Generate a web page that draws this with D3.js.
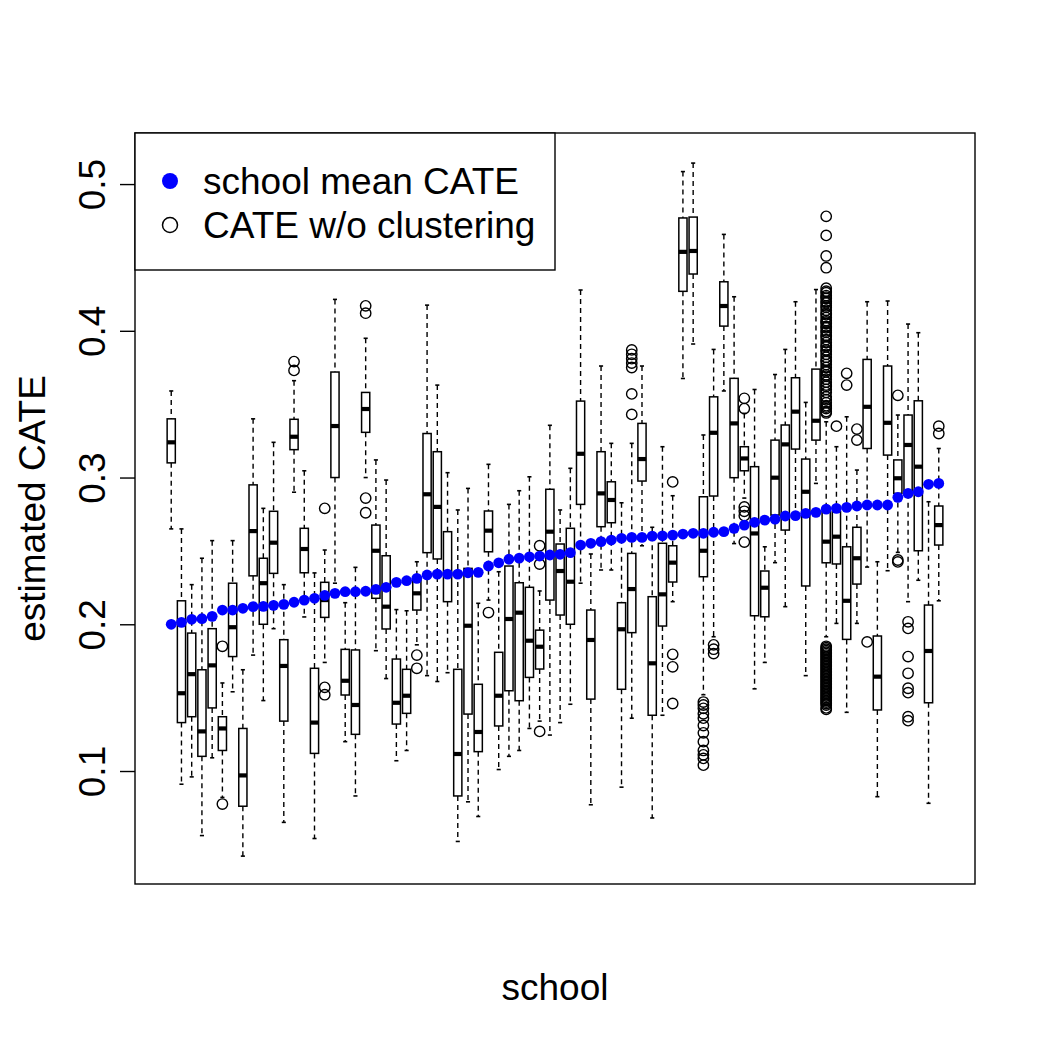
<!DOCTYPE html>
<html lang="en">
<head>
<meta charset="UTF-8">
<title>Estimated CATE by school</title>
<script src="https://d3js.org/d3.v7.min.js"></script>
<style>
  body { margin: 0; background: #fff; }
  svg { font-family: "Liberation Sans", Arial, Helvetica, sans-serif; }
</style>
</head>
<body>
<div id="chart"></div>
<script>
// schools, ordered by their mean CATE
const schoolIds = d3.range(1, 77);

// school mean CATE (blue points)
const schoolMean = [
  0.2000, 0.2013, 0.2034, 0.2038, 0.2054, 0.2097, 0.2097, 0.2109, 0.2120, 0.2122,
  0.2129, 0.2136, 0.2150, 0.2165, 0.2177, 0.2197, 0.2211, 0.2222, 0.2222, 0.2225,
  0.2238, 0.2252, 0.2286, 0.2297, 0.2313, 0.2336, 0.2342, 0.2342, 0.2342, 0.2351,
  0.2354, 0.2397, 0.2419, 0.2443, 0.2451, 0.2460, 0.2465, 0.2472, 0.2477, 0.2488,
  0.2540, 0.2552, 0.2563, 0.2574, 0.2586, 0.2592, 0.2592, 0.2601, 0.2603, 0.2608,
  0.2615, 0.2620, 0.2620, 0.2627, 0.2631, 0.2654, 0.2676, 0.2695, 0.2710, 0.2717,
  0.2738, 0.2740, 0.2756, 0.2763, 0.2785, 0.2790, 0.2797, 0.2806, 0.2813, 0.2813,
  0.2813, 0.2865, 0.2892, 0.2903, 0.2954, 0.2960
];

// box statistics of the CATE w/o clustering, per school
const whiskerLow = [
  0.265, 0.091, 0.096, 0.056, 0.109, 0.082, 0.154, 0.042, 0.179, 0.148,
  0.197, 0.065, 0.290, 0.205, 0.054, 0.174, 0.228, 0.120, 0.083, 0.300,
  0.182, 0.163, 0.107, 0.114, 0.186, 0.165, 0.161, 0.167, 0.052, 0.079,
  0.069, 0.2165, 0.101, 0.110, 0.114, 0.129, 0.134, 0.1245, 0.133, 0.1455,
  0.228, 0.077, 0.237, 0.237, 0.089, 0.136, 0.2535, 0.068, 0.138, 0.2154,
  0.3675, 0.391, 0.152, 0.1915, 0.359, 0.255, 0.286, 0.156, 0.174, 0.242,
  0.212, 0.274, 0.165, 0.296, 0.1915, 0.2006, 0.140, 0.2006, 0.239, 0.0825,
  0.2365, 0.249, 0.2154, 0.230, 0.078, 0.216
];
const q1 = [
  0.310, 0.133, 0.137, 0.110, 0.143, 0.114, 0.178, 0.076, 0.233, 0.200,
  0.2347, 0.134, 0.319, 0.2351, 0.112, 0.2047, 0.300, 0.1518, 0.125, 0.3308,
  0.2177, 0.1968, 0.132, 0.1393, 0.2097, 0.2488, 0.2445, 0.2154, 0.083, 0.1388,
  0.1132, 0.2494, 0.1307, 0.1547, 0.1479, 0.1638, 0.1695, 0.2165, 0.2063, 0.200,
  0.2817, 0.149, 0.2665, 0.2692, 0.1557, 0.1943, 0.2976, 0.138, 0.1988, 0.2288,
  0.4269, 0.4387, 0.2324, 0.2874, 0.4032, 0.2999, 0.3046, 0.2058, 0.2051, 0.2744,
  0.2642, 0.3194, 0.2261, 0.3255, 0.2419, 0.2411, 0.1897, 0.2274, 0.3198, 0.1416,
  0.3153, 0.2892, 0.289, 0.2501, 0.1465, 0.254
];
const median = [
  0.324, 0.153, 0.166, 0.127, 0.172, 0.129, 0.198, 0.097, 0.2635, 0.228,
  0.2556, 0.1716, 0.3278, 0.2513, 0.133, 0.2165, 0.3351, 0.1615, 0.145, 0.3467,
  0.2501, 0.212, 0.1465, 0.1513, 0.2211, 0.2886, 0.280, 0.233, 0.1116, 0.199,
  0.1266, 0.2638, 0.1513, 0.2036, 0.2079, 0.1888, 0.1847, 0.2631, 0.2363, 0.229,
  0.3162, 0.1893, 0.2892, 0.2847, 0.1966, 0.224, 0.3126, 0.1734, 0.2204, 0.242,
  0.4538, 0.4544, 0.2501, 0.3305, 0.4169, 0.3369, 0.313, 0.2619, 0.2249, 0.2999,
  0.3226, 0.3449, 0.2903, 0.3387, 0.2563, 0.2597, 0.216, 0.245, 0.3482, 0.1643,
  0.3373, 0.2995, 0.3222, 0.3074, 0.1818, 0.2676
];
const q3 = [
  0.340, 0.216, 0.194, 0.169, 0.197, 0.137, 0.228, 0.129, 0.295, 0.245,
  0.277, 0.1895, 0.3397, 0.2654, 0.170, 0.2286, 0.3719, 0.1829, 0.1825, 0.358,
  0.2676, 0.2467, 0.1763, 0.1693, 0.2313, 0.330, 0.3176, 0.2631, 0.1693, 0.2381,
  0.1591, 0.2772, 0.1809, 0.2397, 0.2283, 0.2252, 0.196, 0.292, 0.2547, 0.2654,
  0.3521, 0.2097, 0.3176, 0.2971, 0.2147, 0.2483, 0.3369, 0.2188, 0.2552, 0.2535,
  0.4769, 0.4775, 0.2869, 0.355, 0.4334, 0.3676, 0.321, 0.3074, 0.2363, 0.3255,
  0.3358, 0.368, 0.3126, 0.3739, 0.2767, 0.2767, 0.2528, 0.2661, 0.3805, 0.192,
  0.376, 0.312, 0.3426, 0.3523, 0.2131, 0.2806
];
const whiskerHigh = [
  0.359, 0.265, 0.227, 0.245, 0.257, 0.160, 0.257, 0.169, 0.340, 0.279,
  0.324, 0.227, 0.366, 0.3046, 0.235, 0.2506, 0.4214, 0.2147, 0.2388, 0.3949,
  0.312, 0.2983, 0.210, 0.2092, 0.2426, 0.4175, 0.363, 0.3033, 0.2779, 0.2926,
  0.2143, 0.309, 0.2358, 0.2817, 0.291, 0.3005, 0.2227, 0.3356, 0.2779, 0.3063,
  0.4278, 0.2479, 0.376, 0.3233, 0.2828, 0.3233, 0.376, 0.2661, 0.321, 0.2876,
  0.5085, 0.5143, 0.329, 0.3873, 0.4657, 0.4232, 0.3437, 0.360, 0.2528, 0.3702,
  0.3873, 0.4198, 0.3512, 0.4281, 0.338, 0.321, 0.3414, 0.3051, 0.4198, 0.2426,
  0.4203, 0.3426, 0.4046, 0.3987, 0.2835, 0.3198
];
const outliers = [
  [], [], [], [], [], [0.185, 0.0775], [], [], [], [],
  [], [], [0.379, 0.373], [], [], [0.279, 0.157, 0.152], [], [], [], [0.417, 0.412, 0.286, 0.276],
  [], [], [], [], [0.179, 0.170], [], [], [], [], [],
  [], [0.208], [], [], [], [], [0.2535, 0.241, 0.127], [], [], [],
  [], [], [], [], [], [0.387, 0.384, 0.381, 0.378, 0.375, 0.357, 0.343], [], [], [], [0.297, 0.1795, 0.171, 0.146],
  [], [], [0.147, 0.145, 0.1427, 0.139, 0.136, 0.131, 0.126, 0.120, 0.114, 0.111, 0.1086, 0.104],
  [0.186, 0.183, 0.180], [], [], [0.354, 0.347, 0.280, 0.277, 0.274, 0.256], [], [], [],
  [], [], [], [],
  [0.478, 0.465, 0.451, 0.443, 0.429, 0.427, 0.426, 0.424, 0.423, 0.422, 0.420, 0.419, 0.417,
   0.416, 0.414, 0.412, 0.411, 0.409, 0.407, 0.406, 0.405, 0.403, 0.402, 0.400, 0.399, 0.397,
   0.396, 0.394, 0.392, 0.390, 0.389, 0.387, 0.386, 0.384, 0.382, 0.380, 0.379, 0.377, 0.375,
   0.373, 0.372, 0.370, 0.369, 0.367, 0.365, 0.363, 0.362, 0.360, 0.358, 0.355, 0.353, 0.351,
   0.349, 0.348, 0.347, 0.345, 0.344,
   0.185, 0.184, 0.183, 0.182, 0.181, 0.180, 0.179, 0.178, 0.177, 0.176, 0.175, 0.174, 0.173,
   0.172, 0.171, 0.170, 0.169, 0.168, 0.167, 0.166, 0.165, 0.164, 0.163, 0.162, 0.161, 0.160,
   0.159, 0.158, 0.157, 0.156, 0.155, 0.154, 0.153, 0.152, 0.151, 0.150, 0.149, 0.148, 0.147,
   0.146, 0.145, 0.143, 0.142],
  [0.335], [0.371, 0.363], [0.333, 0.3255], [0.188], [],
  [], [0.356, 0.2438, 0.2425], [0.2017, 0.1972, 0.178, 0.1666, 0.1564, 0.1534, 0.137, 0.1343], [], [], [0.335, 0.330]
];

const yTicks = [0.1, 0.2, 0.3, 0.4, 0.5];
const legendLabels = ["school mean CATE", "CATE w/o clustering"];

// page and plot region
const W = 1050, H = 1050;
const plot = {left: 135, right: 975, top: 133, bottom: 884};
const n = schoolIds.length;
const fontSize = "37px";

const svg = d3.select("#chart").append("svg")
  .attr("width", W)
  .attr("height", H);

// x: box positions 1..n, padded like R (4% each side)
const x = d3.scaleLinear()
  .domain([0.5 - 0.04 * n, n + 0.5 + 0.04 * n])
  .range([plot.left, plot.right]);

const y = d3.scaleLinear()
  .domain([0.023, 0.5348])
  .range([plot.bottom, plot.top]);

const boxW = (x(1) - x(0)) * 0.8;
const capW = boxW * 0.5;

const boxes = schoolIds.map((id, i) => ({
  id, lo: whiskerLow[i], q1: q1[i], med: median[i], q3: q3[i], hi: whiskerHigh[i], out: outliers[i]
}));

const g = svg.append("g");

const bx = g.selectAll("g.box")
  .data(boxes)
  .join("g")
  .attr("class", "box");

// whiskers (dashed)
bx.append("line")
  .attr("x1", d => x(d.id)).attr("x2", d => x(d.id))
  .attr("y1", d => y(d.hi)).attr("y2", d => y(d.q3))
  .attr("stroke", "#000").attr("stroke-width", 1.4).attr("stroke-dasharray", "5,4");
bx.append("line")
  .attr("x1", d => x(d.id)).attr("x2", d => x(d.id))
  .attr("y1", d => y(d.q1)).attr("y2", d => y(d.lo))
  .attr("stroke", "#000").attr("stroke-width", 1.4).attr("stroke-dasharray", "5,4");

// staples
bx.selectAll("line.cap")
  .data(d => [{id: d.id, v: d.hi}, {id: d.id, v: d.lo}])
  .join("line")
  .attr("class", "cap")
  .attr("x1", d => x(d.id) - capW / 2).attr("x2", d => x(d.id) + capW / 2)
  .attr("y1", d => y(d.v)).attr("y2", d => y(d.v))
  .attr("stroke", "#000").attr("stroke-width", 1.6);

// boxes
bx.append("rect")
  .attr("x", d => x(d.id) - boxW / 2)
  .attr("width", boxW)
  .attr("y", d => y(d.q3))
  .attr("height", d => y(d.q1) - y(d.q3))
  .attr("fill", "#fff")
  .attr("stroke", "#000")
  .attr("stroke-width", 1.5);

// medians
bx.append("line")
  .attr("x1", d => x(d.id) - boxW / 2).attr("x2", d => x(d.id) + boxW / 2)
  .attr("y1", d => y(d.med)).attr("y2", d => y(d.med))
  .attr("stroke", "#000").attr("stroke-width", 4.2);

// outliers
bx.selectAll("circle.out")
  .data(d => d.out.map(v => ({id: d.id, v})))
  .join("circle")
  .attr("class", "out")
  .attr("cx", d => x(d.id))
  .attr("cy", d => y(d.v))
  .attr("r", 5.2)
  .attr("fill", "none")
  .attr("stroke", "#000")
  .attr("stroke-width", 1.4);

// school means
g.selectAll("circle.mean")
  .data(schoolIds)
  .join("circle")
  .attr("class", "mean")
  .attr("cx", d => x(d))
  .attr("cy", (d, i) => y(schoolMean[i]))
  .attr("r", 5.4)
  .attr("fill", "#0000ff");

// frame
svg.append("rect")
  .attr("x", plot.left).attr("y", plot.top)
  .attr("width", plot.right - plot.left)
  .attr("height", plot.bottom - plot.top)
  .attr("fill", "none")
  .attr("stroke", "#000")
  .attr("stroke-width", 1.4);

// y axis
const yAxis = svg.append("g")
  .attr("transform", `translate(${plot.left},0)`)
  .call(d3.axisLeft(y).tickValues(yTicks).tickFormat(d3.format(".1f")).tickSize(15).tickSizeOuter(0));
yAxis.select(".domain").remove();
yAxis.selectAll("line").attr("stroke-width", 1.4);
yAxis.selectAll("text")
  .attr("x", null).attr("dy", null)
  .attr("transform", "translate(-30,0) rotate(-90)")
  .attr("text-anchor", "middle")
  .attr("fill", "#000")
  .style("font-size", fontSize)
  .style("font-family", "'Liberation Sans', Arial, sans-serif");

// axis titles
svg.append("text")
  .attr("transform", `translate(45, ${(plot.top + plot.bottom) / 2}) rotate(-90)`)
  .attr("text-anchor", "middle")
  .style("font-size", fontSize)
  .text("estimated CATE");

svg.append("text")
  .attr("x", (plot.left + plot.right) / 2)
  .attr("y", 1000)
  .attr("text-anchor", "middle")
  .style("font-size", fontSize)
  .text("school");

// legend
const legend = svg.append("g");
legend.append("rect")
  .attr("x", plot.left).attr("y", plot.top)
  .attr("width", 420).attr("height", 137)
  .attr("fill", "#fff")
  .attr("stroke", "#000")
  .attr("stroke-width", 1.4);
legendLabels.forEach((lab, i) => {
  const cy = 181 + i * 44;
  legend.append("circle")
    .attr("cx", 170).attr("cy", cy).attr("r", i === 0 ? 8 : 7.5)
    .attr("fill", i === 0 ? "#0000ff" : "none")
    .attr("stroke", i === 0 ? "none" : "#000")
    .attr("stroke-width", 1.5);
  legend.append("text")
    .attr("x", 203).attr("y", cy)
    .attr("dy", "0.35em")
    .style("font-size", fontSize)
    .text(lab);
});
</script>
</body>
</html>
